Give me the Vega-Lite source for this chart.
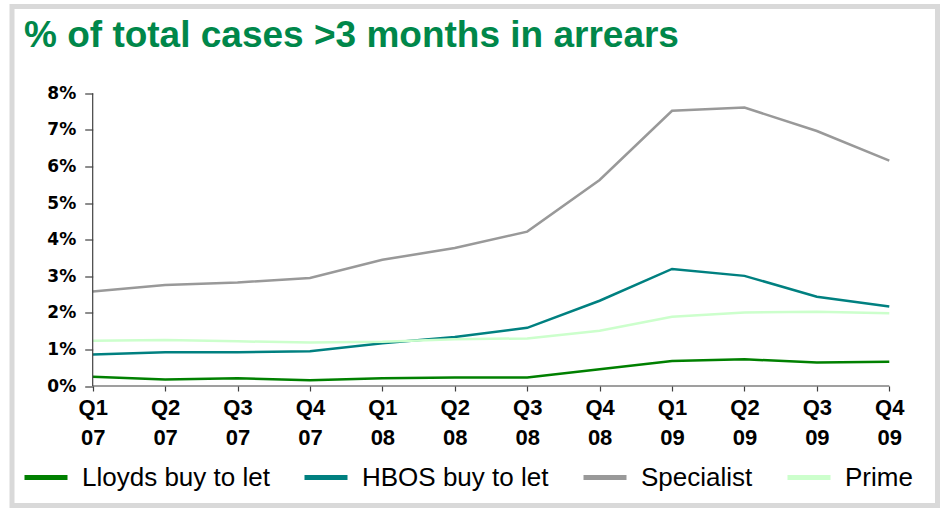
{
  "$schema": "https://vega.github.io/schema/vega-lite/v6.json",
  "width": 925.5,
  "height": 499,
  "autosize": {"type": "none"},
  "padding": {"left": 12, "top": 6.5, "right": 7.5, "bottom": 2.5},
  "background": "white",
  "config": {
    "view": {"stroke": "#d9d9d9", "strokeWidth": 5, "fill": "white"},
    "font": "Liberation Sans"
  },
  "title": {
    "text": "% of total cases >3 months in arrears",
    "anchor": "start",
    "frame": "group",
    "orient": "top",
    "offset": -48,
    "dx": 12,
    "font": "Liberation Sans",
    "fontSize": 37,
    "fontWeight": "bold",
    "color": "#00874a"
  },
  "datasets": {
    "arrears": [
      {"quarter": "Q1 07", "series": "Lloyds buy to let", "value": 0.25},
      {"quarter": "Q1 07", "series": "HBOS buy to let", "value": 0.86},
      {"quarter": "Q1 07", "series": "Specialist", "value": 2.58},
      {"quarter": "Q1 07", "series": "Prime", "value": 1.24},
      {"quarter": "Q2 07", "series": "Lloyds buy to let", "value": 0.18},
      {"quarter": "Q2 07", "series": "HBOS buy to let", "value": 0.92},
      {"quarter": "Q2 07", "series": "Specialist", "value": 2.76},
      {"quarter": "Q2 07", "series": "Prime", "value": 1.26},
      {"quarter": "Q3 07", "series": "Lloyds buy to let", "value": 0.21},
      {"quarter": "Q3 07", "series": "HBOS buy to let", "value": 0.92},
      {"quarter": "Q3 07", "series": "Specialist", "value": 2.83},
      {"quarter": "Q3 07", "series": "Prime", "value": 1.22},
      {"quarter": "Q4 07", "series": "Lloyds buy to let", "value": 0.16},
      {"quarter": "Q4 07", "series": "HBOS buy to let", "value": 0.95},
      {"quarter": "Q4 07", "series": "Specialist", "value": 2.95},
      {"quarter": "Q4 07", "series": "Prime", "value": 1.19},
      {"quarter": "Q1 08", "series": "Lloyds buy to let", "value": 0.21},
      {"quarter": "Q1 08", "series": "HBOS buy to let", "value": 1.17},
      {"quarter": "Q1 08", "series": "Specialist", "value": 3.45},
      {"quarter": "Q1 08", "series": "Prime", "value": 1.21},
      {"quarter": "Q2 08", "series": "Lloyds buy to let", "value": 0.23},
      {"quarter": "Q2 08", "series": "HBOS buy to let", "value": 1.34},
      {"quarter": "Q2 08", "series": "Specialist", "value": 3.77},
      {"quarter": "Q2 08", "series": "Prime", "value": 1.28},
      {"quarter": "Q3 08", "series": "Lloyds buy to let", "value": 0.23},
      {"quarter": "Q3 08", "series": "HBOS buy to let", "value": 1.59},
      {"quarter": "Q3 08", "series": "Specialist", "value": 4.22},
      {"quarter": "Q3 08", "series": "Prime", "value": 1.30},
      {"quarter": "Q4 08", "series": "Lloyds buy to let", "value": 0.46},
      {"quarter": "Q4 08", "series": "HBOS buy to let", "value": 2.33},
      {"quarter": "Q4 08", "series": "Specialist", "value": 5.63},
      {"quarter": "Q4 08", "series": "Prime", "value": 1.51},
      {"quarter": "Q1 09", "series": "Lloyds buy to let", "value": 0.68},
      {"quarter": "Q1 09", "series": "HBOS buy to let", "value": 3.20},
      {"quarter": "Q1 09", "series": "Specialist", "value": 7.52},
      {"quarter": "Q1 09", "series": "Prime", "value": 1.89},
      {"quarter": "Q2 09", "series": "Lloyds buy to let", "value": 0.73},
      {"quarter": "Q2 09", "series": "HBOS buy to let", "value": 3.01},
      {"quarter": "Q2 09", "series": "Specialist", "value": 7.61},
      {"quarter": "Q2 09", "series": "Prime", "value": 2.01},
      {"quarter": "Q3 09", "series": "Lloyds buy to let", "value": 0.64},
      {"quarter": "Q3 09", "series": "HBOS buy to let", "value": 2.44},
      {"quarter": "Q3 09", "series": "Specialist", "value": 6.97},
      {"quarter": "Q3 09", "series": "Prime", "value": 2.03},
      {"quarter": "Q4 09", "series": "Lloyds buy to let", "value": 0.66},
      {"quarter": "Q4 09", "series": "HBOS buy to let", "value": 2.17},
      {"quarter": "Q4 09", "series": "Specialist", "value": 6.16},
      {"quarter": "Q4 09", "series": "Prime", "value": 1.99}
    ]
  },
  "layer": [
    {
      "data": {"name": "arrears"},
      "mark": {"type": "line", "strokeWidth": 2.5},
      "encoding": {
        "x": {
          "field": "quarter",
          "type": "ordinal",
          "sort": null,
          "scale": {"type": "point", "padding": 0.89, "align": 0.626},
          "axis": {
            "title": null,
            "labelExpr": "split(datum.label, ' ')",
            "labelAngle": 0,
            "labelOverlap": false,
            "domain": false,
            "grid": false,
            "ticks": true,
            "tickSize": 5,
            "tickColor": "#404040",
            "tickWidth": 1.2,
            "labelFont": "Liberation Sans",
            "labelFontWeight": "bold",
            "labelFontSize": 22,
            "labelLineHeight": 30,
            "labelColor": "black",
            "labelPadding": 6,
            "offset": -119.5
          }
        },
        "y": {
          "field": "value",
          "type": "quantitative",
          "scale": {"domain": [-3.266, 10.372], "nice": false, "zero": false},
          "axis": {
            "title": null,
            "values": [0, 1, 2, 3, 4, 5, 6, 7, 8],
            "labelExpr": "datum.value + '%'",
            "domain": false,
            "grid": false,
            "ticks": true,
            "tickSize": 8,
            "tickColor": "#404040",
            "tickWidth": 1.2,
            "labelFont": "DejaVu Sans",
            "labelFontWeight": "bold",
            "labelFontSize": 17,
            "labelColor": "black",
            "labelPadding": 9,
            "offset": -80.7
          }
        },
        "color": {
          "field": "series",
          "type": "nominal",
          "scale": {
            "domain": ["Lloyds buy to let", "HBOS buy to let", "Specialist", "Prime"],
            "range": ["#008000", "#008080", "#999999", "#ccffcc"]
          },
          "legend": {
            "title": null,
            "orient": "none",
            "legendX": 10,
            "legendY": 447,
            "direction": "horizontal",
            "symbolType": "stroke",
            "symbolSize": 1849,
            "symbolStrokeWidth": 5,
            "labelFont": "Liberation Sans",
            "labelFontSize": 26,
            "labelColor": "black",
            "labelOffset": 12,
            "labelLimit": 400,
            "columnPadding": 24,
            "padding": 0
          }
        }
      }
    },
    {
      "data": {"values": [{}]},
      "mark": {"type": "rule", "color": "#404040", "strokeWidth": 1.2},
      "encoding": {
        "x": {"datum": "Q1 07", "type": "ordinal"},
        "y": {"datum": 0, "type": "quantitative"},
        "y2": {"datum": 8}
      }
    },
    {
      "data": {"values": [{}]},
      "mark": {"type": "rule", "color": "#404040", "strokeWidth": 1.2},
      "encoding": {
        "x": {"datum": "Q1 07", "type": "ordinal"},
        "x2": {"datum": "Q4 09"},
        "y": {"datum": 0, "type": "quantitative"}
      }
    }
  ]
}
